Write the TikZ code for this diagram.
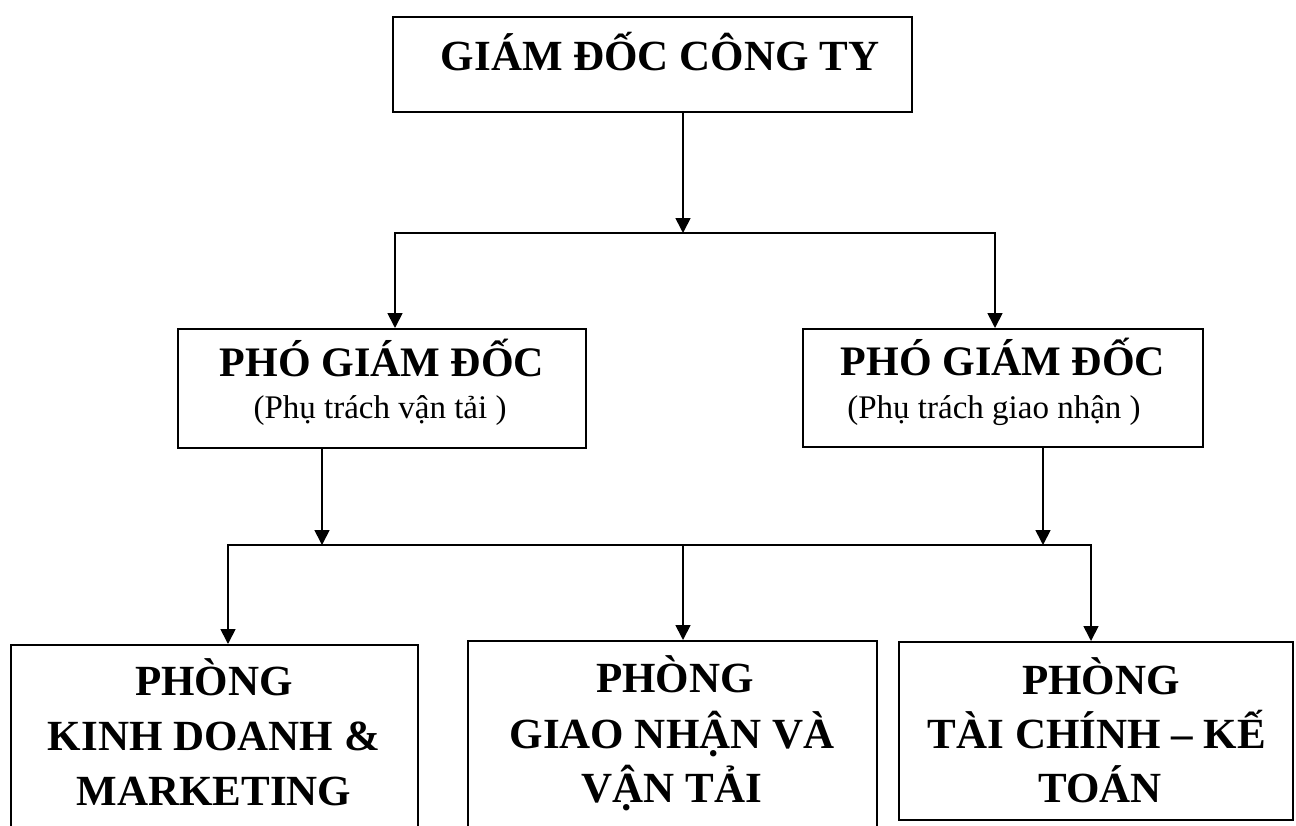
\documentclass[tikz,border=0pt]{standalone}
\usepackage{fontspec}
\setmainfont{Liberation Serif}
\usetikzlibrary{arrows.meta}
\begin{document}
\begin{tikzpicture}[x=1pt,y=-1pt,
  box/.style={draw=black, line width=2pt, rectangle, inner sep=0pt},
  conn/.style={draw=black, line width=1.7pt},
  arr/.style={conn, -{Triangle[width=15pt,length=15pt]}},
  big/.style={inner sep=0pt, anchor=base, font=\fontsize{43}{48}\selectfont\bfseries},
  mid/.style={inner sep=0pt, anchor=base, font=\fontsize{42}{46}\selectfont\bfseries},
  sub/.style={inner sep=0pt, anchor=base, font=\fontsize{33}{37}\selectfont}]
\useasboundingbox (0,0) rectangle (1296,825);
\clip (0,0) rectangle (1296,825);
% boxes
\node[box, minimum width=519pt, minimum height=95pt] (gd) at (652.5,64.5) {};
\node[box, minimum width=408pt, minimum height=119pt] (pgd1) at (382,388.5) {};
\node[box, minimum width=400pt, minimum height=118pt] (pgd2) at (1003,388) {};
\node[box, minimum width=407pt, minimum height=225pt] (p1) at (214.5,757.5) {};
\node[box, minimum width=409pt, minimum height=229pt] (p2) at (672.5,755.5) {};
\node[box, minimum width=394pt, minimum height=178pt] (p3) at (1096,731) {};
% texts
\node[big] (t0) at (660,70) {GIÁM ĐỐC CÔNG TY};
\node[mid] (t1a) at (382,376) {PHÓ GIÁM ĐỐC};
\node[sub] (t1b) at (380,418) {(Phụ trách vận tải )};
\node[mid] (t2a) at (1003,375) {PHÓ GIÁM ĐỐC};
\node[sub] (t2b) at (994,418) {(Phụ trách giao nhận )};
\node[big] (t3a) at (214,695) {PHÒNG};
\node[big] (t3b) at (214,750) {KINH DOANH \&};
\node[big] (t3c) at (214,805) {MARKETING};
\node[big] (t4a) at (675,692) {PHÒNG};
\node[big] (t4b) at (672,748) {GIAO NHẬN VÀ};
\node[big] (t4c) at (672,802) {VẬN TẢI};
\node[big] (t5a) at (1101,694) {PHÒNG};
\node[big] (t5b) at (1097,748) {TÀI CHÍNH – KẾ};
\node[big] (t5c) at (1100,802) {TOÁN};
% junctions
\coordinate (j1) at (683,233);
\coordinate (j1l) at (395,233);
\coordinate (j1r) at (995,233);
\coordinate (j2) at (683,545);
\coordinate (j2l) at (228,545);
\coordinate (j2r) at (1091,545);
\coordinate (a1) at (322,545);
\coordinate (a2) at (1043,545);
% connectors
\draw[arr] (gd.south -| j1) -- (j1);
\draw[arr] (j1r) -- (j1l) -- (j1l |- pgd1.north);
\draw[arr] (j1l) -- (j1r) -- (j1r |- pgd2.north);
\draw[arr] (pgd1.south -| a1) -- (a1);
\draw[arr] (pgd2.south -| a2) -- (a2);
\draw[arr] (j2r) -- (j2l) -- (j2l |- p1.north);
\draw[arr] (j2l) -- (j2r) -- (j2r |- p3.north);
\draw[arr] (j2) -- (j2 |- p2.north);
\end{tikzpicture}
\end{document}
